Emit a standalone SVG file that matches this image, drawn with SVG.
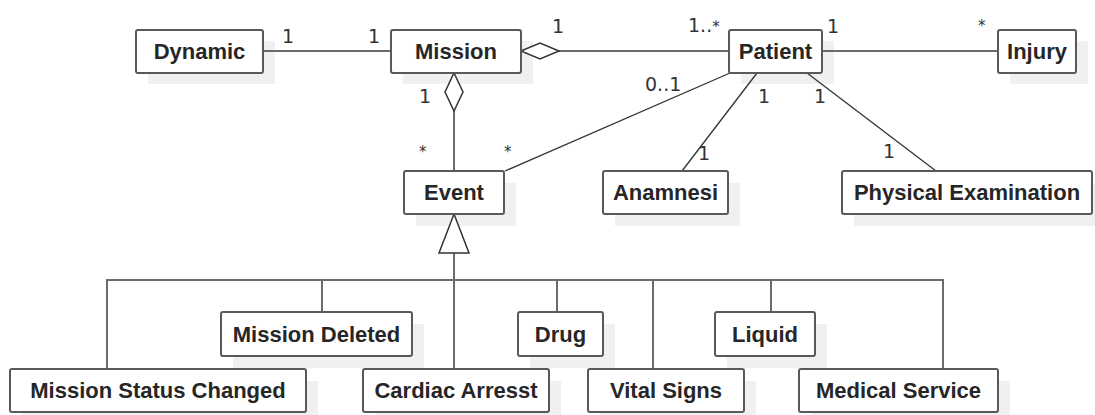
<svg xmlns="http://www.w3.org/2000/svg" width="1095" height="415" viewBox="0 0 1095 415">
  <style>
    .shadow { fill: #f0f0f0; }
    .box { fill: #ffffff; stroke: #595959; stroke-width: 2; }
    .name { font-family: "Liberation Sans", Arial, sans-serif; font-weight: bold; font-size: 22px; fill: #262626; text-anchor: middle; }
    .edge { fill: none; stroke: #6b6b6b; stroke-width: 2; }
    .thin { fill: none; stroke: #333333; stroke-width: 1.3; }
    .diamond { fill: #ffffff; stroke: #333333; stroke-width: 1.5; }
    .mult { font-family: "DejaVu Sans", sans-serif; font-size: 19px; fill: #333333; }
    .star { font-family: "DejaVu Sans", sans-serif; font-size: 15px; fill: #333333; }
  </style>

  <rect width="1095" height="415" fill="#ffffff"/>

  <!-- soft drop shadows, painted beneath everything else -->
  <g id="shadows">
    <rect class="shadow" x="148" y="41" width="127" height="43"/>
    <rect class="shadow" x="403" y="41" width="130" height="43"/>
    <rect class="shadow" x="741" y="41" width="93" height="43"/>
    <rect class="shadow" x="1010" y="41" width="78" height="43"/>
    <rect class="shadow" x="416" y="183" width="100" height="43"/>
    <rect class="shadow" x="615" y="183" width="125" height="43"/>
    <rect class="shadow" x="854" y="183" width="241" height="43"/>
    <rect class="shadow" x="233" y="324" width="191" height="44"/>
    <rect class="shadow" x="530" y="324" width="85" height="44"/>
    <rect class="shadow" x="727" y="324" width="100" height="44"/>
    <rect class="shadow" x="22" y="381" width="296" height="34"/>
    <rect class="shadow" x="375" y="381" width="186" height="34"/>
    <rect class="shadow" x="600" y="381" width="156" height="34"/>
    <rect class="shadow" x="811" y="381" width="199" height="34"/>
  </g>

  <!-- connectors -->
  <g id="connectors">
    <!-- associations -->
    <line class="edge" x1="263" y1="51" x2="391" y2="51"/>
    <line class="edge" x1="559" y1="51" x2="729" y2="51"/>
    <line class="edge" x1="822" y1="51" x2="998" y2="51"/>
    <line class="edge" x1="454" y1="111" x2="454" y2="171"/>
    <line class="thin" x1="730" y1="73" x2="505" y2="171"/>
    <line class="thin" x1="757" y1="73" x2="682" y2="171"/>
    <line class="thin" x1="807" y1="73" x2="936" y2="171"/>
    <!-- aggregation diamonds -->
    <path class="diamond" d="M521,51 L540,43 L559,51 L540,59 Z"/>
    <path class="diamond" d="M454,73 L463,92 L454,111 L445,92 Z"/>
    <!-- generalization tree -->
    <line class="edge" x1="454" y1="253" x2="454" y2="369"/>
    <path class="edge" d="M107,369 L107,280 L943,280 L943,369"/>
    <line class="edge" x1="322" y1="280" x2="322" y2="312"/>
    <line class="edge" x1="557" y1="280" x2="557" y2="312"/>
    <line class="edge" x1="653" y1="280" x2="653" y2="369"/>
    <line class="edge" x1="771" y1="280" x2="771" y2="312"/>
    <path class="diamond" d="M454,214 L469,253 L439,253 Z"/>

    <!-- multiplicities -->
    <text class="mult" x="282" y="43">1</text>
    <text class="mult" x="368" y="43">1</text>
    <text class="mult" x="552" y="33">1</text>
    <text class="mult" x="688" y="32">1..<tspan class="star">*</tspan></text>
    <text class="mult" x="827" y="33">1</text>
    <text class="star" x="978" y="31">*</text>
    <text class="mult" x="645" y="91">0..1</text>
    <text class="mult" x="419" y="103">1</text>
    <text class="star" x="419" y="157">*</text>
    <text class="star" x="504" y="157">*</text>
    <text class="mult" x="758" y="103">1</text>
    <text class="mult" x="814" y="103">1</text>
    <text class="mult" x="698" y="160">1</text>
    <text class="mult" x="883" y="158">1</text>
  </g>

  <!-- classes -->
  <g id="dynamic">
    <rect class="box" x="136" y="30" width="127" height="43" rx="2"/>
    <text class="name" x="199.5" y="59">Dynamic</text>
  </g>
  <g id="mission">
    <rect class="box" x="391" y="30" width="130" height="43" rx="2"/>
    <text class="name" x="456" y="59">Mission</text>
  </g>
  <g id="patient">
    <rect class="box" x="729" y="30" width="93" height="43" rx="2"/>
    <text class="name" x="775.5" y="59">Patient</text>
  </g>
  <g id="injury">
    <rect class="box" x="998" y="30" width="78" height="43" rx="2"/>
    <text class="name" x="1037" y="59">Injury</text>
  </g>
  <g id="event">
    <rect class="box" x="404" y="171" width="100" height="43" rx="2"/>
    <text class="name" x="454" y="200">Event</text>
  </g>
  <g id="anamnesi">
    <rect class="box" x="603" y="171" width="125" height="43" rx="2"/>
    <text class="name" x="665.5" y="200">Anamnesi</text>
  </g>
  <g id="physical-examination">
    <rect class="box" x="842" y="171" width="250" height="43" rx="2"/>
    <text class="name" x="967" y="200">Physical Examination</text>
  </g>
  <g id="mission-deleted">
    <rect class="box" x="221" y="312" width="191" height="44" rx="2"/>
    <text class="name" x="316.5" y="342">Mission Deleted</text>
  </g>
  <g id="drug">
    <rect class="box" x="518" y="312" width="85" height="44" rx="2"/>
    <text class="name" x="560.5" y="342">Drug</text>
  </g>
  <g id="liquid">
    <rect class="box" x="715" y="312" width="100" height="44" rx="2"/>
    <text class="name" x="765" y="342">Liquid</text>
  </g>
  <g id="mission-status-changed">
    <rect class="box" x="10" y="369" width="296" height="43" rx="2"/>
    <text class="name" x="158" y="398">Mission Status Changed</text>
  </g>
  <g id="cardiac-arresst">
    <rect class="box" x="363" y="369" width="186" height="43" rx="2"/>
    <text class="name" x="456" y="398">Cardiac Arresst</text>
  </g>
  <g id="vital-signs">
    <rect class="box" x="588" y="369" width="156" height="43" rx="2"/>
    <text class="name" x="666" y="398">Vital Signs</text>
  </g>
  <g id="medical-service">
    <rect class="box" x="799" y="369" width="199" height="43" rx="2"/>
    <text class="name" x="898.5" y="398">Medical Service</text>
  </g>
</svg>
